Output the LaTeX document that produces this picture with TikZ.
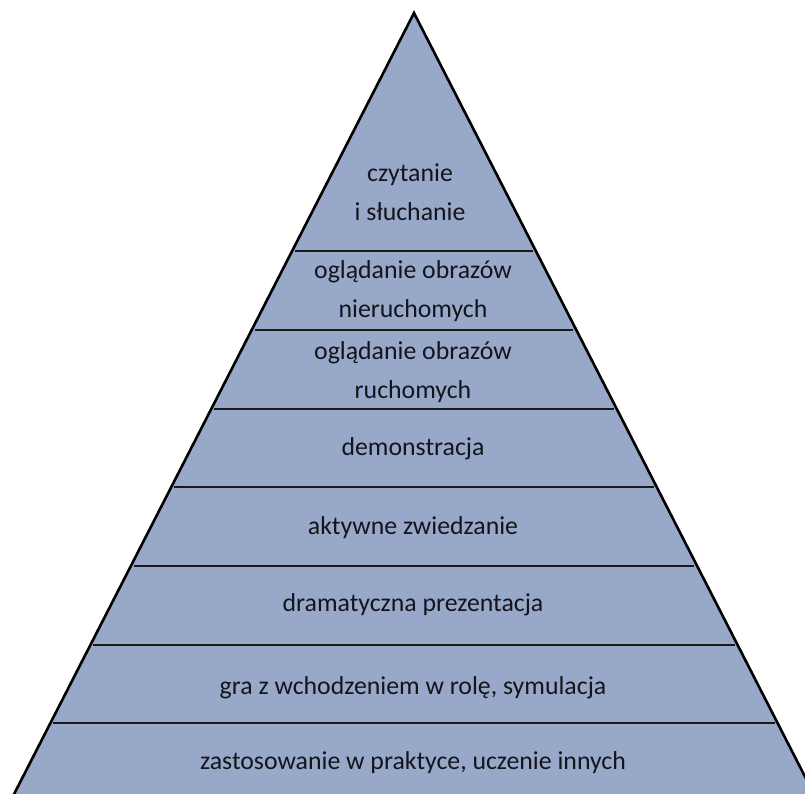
\documentclass[tikz,border=0pt]{standalone}
\usepackage{fontspec}
\setmainfont{Carlito}
\definecolor{tierfill}{RGB}{152,168,200}
\definecolor{tiertext}{RGB}{20,20,28}
\begin{document}
\begin{tikzpicture}[x=1pt,y=-1pt,
  tierlabel/.style={text=tiertext,align=center,inner sep=0pt,
    font=\fontsize{25.8}{39}\selectfont},
  divider/.style={line width=2.4pt,draw=black!90}]
\useasboundingbox (0,0) rectangle (805,794);
\begin{scope}
\clip (0,0) rectangle (805,794);
% pyramid body
\filldraw[fill=tierfill,draw=black,line width=2.6pt,line join=miter]
  (414,13) -- (818,802) -- (10,802) -- cycle;
% tier dividers, stopping just short of the slanted sides
\foreach \yy in {251,330,409,487,566,645,723}{
  \draw[divider] ({414-0.512*(\yy-13)+3},\yy) -- ({414+0.512*(\yy-13)-3},\yy);
}
\end{scope}
% tier labels
\node[tierlabel] (t1) at (410,192) {czytanie\\i słuchanie};
\node[tierlabel] (t2) at (413,291) {oglądanie obrazów\\nieruchomych};
\node[tierlabel] (t3) at (413,372) {oglądanie obrazów\\ruchomych};
\node[tierlabel] (t4) at (413,449) {demonstracja};
\node[tierlabel] (t5) at (413,528) {aktywne zwiedzanie};
\node[tierlabel] (t6) at (413,605) {dramatyczna prezentacja};
\node[tierlabel] (t7) at (413,688) {gra z wchodzeniem w rolę, symulacja};
\node[tierlabel] (t8) at (413,763) {zastosowanie w praktyce, uczenie innych};
\end{tikzpicture}
\end{document}
